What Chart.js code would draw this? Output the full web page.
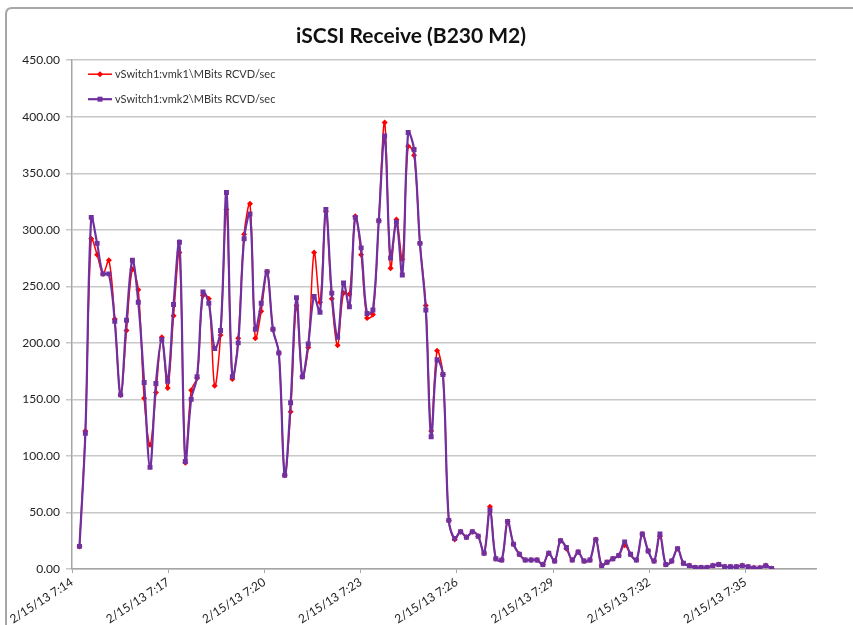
<!DOCTYPE html>
<html><head><meta charset="utf-8">
<script src="https://cdn.jsdelivr.net/npm/chart.js@4/dist/chart.umd.min.js"></script>
<style>html,body{margin:0;padding:0;background:#fff}#wrap{width:853px;height:625px;position:relative}</style>
</head><body><div id="wrap"><canvas id="c" width="853" height="625"></canvas></div>
<script>
const chartTitle = "iSCSI Receive (B230 M2)";
const seriesNames = ["vSwitch1:vmk1\\MBits RCVD/sec", "vSwitch1:vmk2\\MBits RCVD/sec"];
const tickLabels = ["2/15/13 7:14","2/15/13 7:17","2/15/13 7:20","2/15/13 7:23","2/15/13 7:26","2/15/13 7:29","2/15/13 7:32","2/15/13 7:35"];
const times = [
"7:14:14","7:14:25","7:14:36","7:14:47","7:14:58","7:15:09","7:15:20","7:15:31","7:15:42","7:15:53",
"7:16:04","7:16:15","7:16:26","7:16:37","7:16:48","7:16:59","7:17:10","7:17:21","7:17:32","7:17:43",
"7:17:54","7:18:05","7:18:16","7:18:27","7:18:38","7:18:49","7:19:00","7:19:11","7:19:22","7:19:33",
"7:19:43","7:19:54","7:20:05","7:20:16","7:20:27","7:20:38","7:20:49","7:21:00","7:21:11","7:21:22",
"7:21:33","7:21:44","7:21:55","7:22:06","7:22:17","7:22:28","7:22:39","7:22:50","7:23:01","7:23:12",
"7:23:23","7:23:34","7:23:45","7:23:56","7:24:07","7:24:18","7:24:29","7:24:40","7:24:51","7:25:02",
"7:25:12","7:25:23","7:25:34","7:25:45","7:25:56","7:26:07","7:26:18","7:26:29","7:26:40","7:26:51",
"7:27:02","7:27:13","7:27:24","7:27:35","7:27:46","7:27:57","7:28:08","7:28:19","7:28:30","7:28:41",
"7:28:52","7:29:03","7:29:14","7:29:25","7:29:36","7:29:47","7:29:58","7:30:09","7:30:20","7:30:31",
"7:30:41","7:30:52","7:31:03","7:31:14","7:31:25","7:31:36","7:31:47","7:31:58","7:32:09","7:32:20",
"7:32:31","7:32:42","7:32:53","7:33:04","7:33:15","7:33:26","7:33:37","7:33:48","7:33:59","7:34:10",
"7:34:21","7:34:32","7:34:43","7:34:54","7:35:05","7:35:16","7:35:27","7:35:38","7:35:49"];
const vmk1 = [
20,122,292,278,261,273,221,154,211,265,
247,151,110,156,205,160,224,280,94,158,
169,242,239,162,207,318,168,204,296,323,
204,228,263,212,191,83,139,233,170,196,
280,236,316,239,198,244,243,312,278,222,
225,308,395,266,309,274,374,366,288,233,
122,193,172,43,26,33,28,33,29,14,
55,9,8,42,22,13,8,8,8,4,
14,7,25,18,8,15,7,8,26,3,
6,9,12,21,13,8,31,16,7,29,
4,7,18,5,3,1.4,1.4,1.4,3,4,
2,2,2,3,2,1,1,3,0.5];
const vmk2 = [
20,120,311,288,261,261,219,154,220,273,
236,165,90,164,203,166,234,289,95,150,
170,245,235,195,211,333,170,200,292,314,
212,235,263,212,191,83,147,240,170,199,
241,227,318,244,205,253,232,311,284,226,
229,308,383,275,307,260,386,371,288,229,
117,185,172,43,27,33,28,33,29,14,
52,9,8,42,22,13,8,8,8,4,
14,7,25,19,8,15,7,8,26,3,
6,9,12,24,13,8,31,16,7,31,
4,7,18,5,3,1.4,1.4,1.4,3,4,
2,2,2,3,2,1,1,3,0.5];

const START = 7*3600 + 14*60;   // 7:14:00
const TICK_STEP = 180;          // 3 minutes
const X_MAX = 1392;
function secs(t){ const p = t.split(':').map(Number); return p[0]*3600 + p[1]*60 + p[2] - START; }
function pts(vals){ return vals.map((v,i)=>({x: secs(times[i]), y: v})); }

const FONT = "Lato, 'Open Sans', sans-serif";
const RED = '#ff0000', PURPLE = '#7030a0';

const framePlugin = {
  id: 'frame',
  beforeDraw(chart){
    const ctx = chart.ctx;
    ctx.save();
    ctx.fillStyle = '#fff';
    ctx.fillRect(0,0,chart.width,chart.height);
    ctx.strokeStyle = '#a6a6a6';
    ctx.lineWidth = 2;
    ctx.beginPath();
    ctx.moveTo(6, 640); ctx.lineTo(6, 14); ctx.quadraticCurveTo(6, 8, 12, 8); ctx.lineTo(860, 8);
    ctx.stroke();
    ctx.restore();
  }
};

const legendPlugin = {
  id: 'inlegend',
  afterDatasetsDraw(chart){
    const ctx = chart.ctx, a = chart.chartArea;
    ctx.save();
    chart.data.datasets.forEach((ds, i) => {
      const y = a.top + 14 + i*25;
      const x0 = a.left + 16, x1 = a.left + 40, xm = (x0+x1)/2;
      ctx.strokeStyle = ds.borderColor; ctx.lineWidth = ds.borderWidth;
      ctx.beginPath(); ctx.moveTo(x0,y); ctx.lineTo(x1,y); ctx.stroke();
      ctx.fillStyle = ds.borderColor;
      ctx.beginPath();
      if (ds.pointStyle === 'rectRot') { ctx.moveTo(xm, y-3); ctx.lineTo(xm+3,y); ctx.lineTo(xm,y+3); ctx.lineTo(xm-3,y); ctx.closePath(); }
      else { ctx.rect(xm-2.5, y-2.5, 5, 5); }
      ctx.fill();
      ctx.fillStyle = '#333';
      ctx.font = "11px " + FONT;
      ctx.textBaseline = 'middle';
      ctx.textAlign = 'left';
      ctx.fillText(ds.label, x1 + 3, y);
    });
    ctx.restore();
  }
};

new Chart(document.getElementById('c'), {
  type: 'line',
  data: {
    datasets: [
      { label: seriesNames[0], data: pts(vmk1), borderColor: RED, backgroundColor: RED,
        borderWidth: 1.5, pointStyle: 'rectRot', pointRadius: 3, pointBorderWidth: 0,
        pointBackgroundColor: RED, tension: 0.35, order: 1 },
      { label: seriesNames[1], data: pts(vmk2), borderColor: PURPLE, backgroundColor: PURPLE,
        borderWidth: 2.2, pointStyle: 'rect', pointRadius: 3.5, pointBorderWidth: 0,
        pointBackgroundColor: PURPLE, tension: 0.35, order: 0 }
    ]
  },
  options: {
    responsive: false,
    animation: false,
    layout: { padding: { left: 6, right: 37, top: 8, bottom: 0 } },
    plugins: {
      legend: { display: false },
      tooltip: { enabled: false },
      title: { display: true, text: chartTitle, color: '#111',
        font: { family: FONT, size: 21, weight: 'bold', lineHeight: 1.2 },
        padding: { top: 16, bottom: 11 } }
    },
    scales: {
      x: {
        type: 'linear', min: 0, max: X_MAX,
        afterBuildTicks: (s) => { s.ticks = s.ticks.filter(t => t.value % TICK_STEP === 0); },
        afterFit: (s) => { s.height = 56; },
        ticks: { stepSize: TICK_STEP, autoSkip: false, maxRotation: 33, minRotation: 33,
          color: '#222', font: { family: FONT, size: 12 }, padding: 2,
          callback: (v) => tickLabels[Math.round(v / TICK_STEP)] ?? '' },
        grid: { drawOnChartArea: false, drawTicks: true, tickLength: 4, color: '#a6a6a6', lineWidth: 1 },
        border: { display: true, color: '#a6a6a6', width: 1.5 }
      },
      y: {
        min: 0, max: 450,
        afterFit: (s) => { s.width = 66; },
        ticks: { stepSize: 50, color: '#222', font: { family: FONT, size: 12 }, padding: 6,
          callback: (v) => Number(v).toFixed(2) },
        grid: { color: '#c8c8c8', lineWidth: 1.5, drawTicks: true, tickLength: 6 },
        border: { display: true, color: '#a6a6a6', width: 1.5 }
      }
    }
  },
  plugins: [framePlugin, legendPlugin]
});
</script>
</body></html>
